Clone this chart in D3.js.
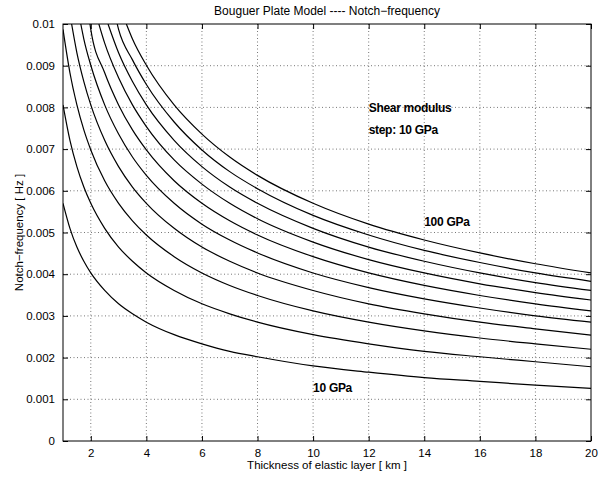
<!DOCTYPE html>
<html lang="en">
<head>
<meta charset="UTF-8">
<title>Bouguer Plate Model</title>
<script src="https://d3js.org/d3.v7.min.js"></script>
<style>
  body { margin: 0; background: #fff; }
  svg { font-family: "Liberation Sans", Arial, Helvetica, sans-serif; }
</style>
</head>
<body>
<svg id="chart"></svg>
<script>
// thickness of the elastic layer [km], the x positions of the readings
var thickness = [1, 1.25, 1.5, 1.75, 2, 2.5, 3, 3.5, 4, 5, 6, 7, 8, 10, 12, 14, 16, 18, 20];

// shear modulus of each curve [GPa]
var shearModulus = [10, 20, 30, 40, 50, 60, 70, 80, 90, 100];

// thickness where a curve comes in through the top of the plot (null = starts inside)
var topEntry = [null, null, null, 1.31, 1.64, 1.97, 2.29, 2.62, 2.95, 3.28];

// notch frequency [Hz], null = above the plot
var f10  = [0.00570, 0.00510, 0.00465, 0.00431, 0.00403, 0.00361, 0.00329, 0.00305, 0.00285, 0.00255, 0.00233, 0.00215, 0.00202, 0.00180, 0.00165, 0.00152, 0.00143, 0.00134, 0.00126];
var f20  = [0.00806, 0.00721, 0.00658, 0.00609, 0.00570, 0.00510, 0.00465, 0.00431, 0.00403, 0.00361, 0.00329, 0.00305, 0.00285, 0.00255, 0.00233, 0.00215, 0.00202, 0.00190, 0.00178];
var f30  = [0.00987, 0.00883, 0.00806, 0.00746, 0.00698, 0.00624, 0.00570, 0.00528, 0.00494, 0.00442, 0.00403, 0.00373, 0.00349, 0.00312, 0.00285, 0.00264, 0.00247, 0.00233, 0.00220];
var f40  = [null, null, 0.00931, 0.00862, 0.00806, 0.00721, 0.00658, 0.00609, 0.00570, 0.00510, 0.00465, 0.00431, 0.00403, 0.00361, 0.00329, 0.00305, 0.00285, 0.00269, 0.00254];
var f50  = [null, null, null, 0.00964, 0.00901, 0.00806, 0.00736, 0.00681, 0.00637, 0.00570, 0.00520, 0.00482, 0.00451, 0.00403, 0.00368, 0.00341, 0.00319, 0.00300, 0.00285];
var f60  = [null, null, null, null, 0.00987, 0.00883, 0.00806, 0.00746, 0.00698, 0.00624, 0.00570, 0.00528, 0.00494, 0.00442, 0.00403, 0.00373, 0.00349, 0.00329, 0.00312];
var f70  = [null, null, null, null, null, 0.00954, 0.00871, 0.00806, 0.00754, 0.00674, 0.00616, 0.00570, 0.00533, 0.00477, 0.00435, 0.00403, 0.00377, 0.00356, 0.00338];
var f80  = [null, null, null, null, null, null, 0.00931, 0.00862, 0.00806, 0.00721, 0.00658, 0.00609, 0.00570, 0.00510, 0.00465, 0.00431, 0.00403, 0.00380, 0.00361];
var f90  = [null, null, null, null, null, null, 0.00987, 0.00914, 0.00855, 0.00765, 0.00698, 0.00646, 0.00605, 0.00541, 0.00494, 0.00457, 0.00428, 0.00403, 0.00383];
var f100 = [null, null, null, null, null, null, null, 0.00964, 0.00901, 0.00806, 0.00736, 0.00681, 0.00637, 0.00570, 0.00520, 0.00482, 0.00451, 0.00425, 0.00403];
var curves = [f10, f20, f30, f40, f50, f60, f70, f80, f90, f100];

// ticks
var xTicks = [2, 4, 6, 8, 10, 12, 14, 16, 18, 20];
var yTicks = [0, 0.001, 0.002, 0.003, 0.004, 0.005, 0.006, 0.007, 0.008, 0.009, 0.01];

// annotations in data coordinates
var noteText = ["Shear modulus", "step: 10 GPa", "100 GPa", "10 GPa"];
var noteX = [12, 12, 14, 10];
var noteY = [0.0080, 0.00747, 0.00526, 0.00128];

var width = 611, height = 479;
var margin = {top: 24, right: 20, bottom: 38, left: 63};
var w = width - margin.left - margin.right;
var h = height - margin.top - margin.bottom;

var svg = d3.select("#chart").attr("width", width).attr("height", height);

var x = d3.scaleLinear().domain([1, 20]).range([0, w]);
var y = d3.scaleLinear().domain([0, 0.01]).range([h, 0]);

var g = svg.append("g").attr("transform", "translate(" + margin.left + "," + margin.top + ")");

svg.append("defs").append("clipPath").attr("id", "plotclip")
  .append("rect").attr("width", w).attr("height", h);

// dotted grid
g.selectAll(".vgrid").data(xTicks.filter(function(d) { return d < 20; }))
  .enter().append("line")
  .attr("x1", function(d) { return x(d); }).attr("x2", function(d) { return x(d); })
  .attr("y1", 0).attr("y2", h)
  .attr("stroke", "#777").attr("stroke-width", 1).attr("stroke-dasharray", "1,2.5");
g.selectAll(".hgrid").data(yTicks.filter(function(d) { return d > 0 && d < 0.01; }))
  .enter().append("line")
  .attr("y1", function(d) { return y(d); }).attr("y2", function(d) { return y(d); })
  .attr("x1", 0).attr("x2", w)
  .attr("stroke", "#777").attr("stroke-width", 1).attr("stroke-dasharray", "1,2.5");

// curves
var line = d3.line()
  .x(function(d) { return x(d[0]); })
  .y(function(d) { return y(d[1]); })
  .curve(d3.curveMonotoneX);

var series = curves.map(function(vals, k) {
  var pts = [];
  if (topEntry[k] !== null) pts.push([topEntry[k], 0.01]);
  thickness.forEach(function(t, i) { if (vals[i] !== null) pts.push([t, vals[i]]); });
  return pts;
});

g.append("g").attr("clip-path", "url(#plotclip)")
  .selectAll("path").data(series).enter().append("path")
  .attr("d", line)
  .attr("fill", "none").attr("stroke", "#000").attr("stroke-width", 1.2);

// axes, ticks inside on all four sides
var tickLen = 5;
g.append("g").attr("transform", "translate(0," + h + ")")
  .call(d3.axisBottom(x).tickValues(xTicks).tickSizeInner(-tickLen).tickSizeOuter(0).tickPadding(8))
  .call(function(a) { a.select(".domain").remove(); });
g.append("g")
  .call(d3.axisTop(x).tickValues(xTicks).tickSizeInner(-tickLen).tickSizeOuter(0).tickFormat(""))
  .call(function(a) { a.select(".domain").remove(); });
g.append("g")
  .call(d3.axisLeft(y).tickValues(yTicks).tickSizeInner(-tickLen).tickSizeOuter(0).tickPadding(8)
    .tickFormat(function(d) { return d === 0 ? "0" : String(+d.toFixed(3)); }))
  .call(function(a) { a.select(".domain").remove(); });
g.append("g").attr("transform", "translate(" + w + ",0)")
  .call(d3.axisRight(y).tickValues(yTicks).tickSizeInner(-tickLen).tickSizeOuter(0).tickFormat(""))
  .call(function(a) { a.select(".domain").remove(); });

g.selectAll(".tick text").attr("font-size", 11.5).attr("fill", "#000")
  .attr("font-family", "'Liberation Sans', Arial, sans-serif");
g.selectAll(".tick line").attr("stroke", "#000");

g.append("rect").attr("width", w).attr("height", h)
  .attr("fill", "none").attr("stroke", "#000").attr("stroke-width", 1);

// annotations
g.selectAll(".note").data(noteText).enter().append("text")
  .attr("x", function(d, i) { return x(noteX[i]); })
  .attr("y", function(d, i) { return y(noteY[i]); })
  .attr("dy", "0.35em")
  .attr("font-size", 12).attr("font-weight", "bold").attr("letter-spacing", -0.3)
  .text(function(d) { return d; });

// titles
svg.append("text").attr("x", margin.left + w / 2).attr("y", 15)
  .attr("text-anchor", "middle").attr("font-size", 12)
  .text("Bouguer Plate Model ---- Notch\u2212frequency");
svg.append("text").attr("x", margin.left + w / 2).attr("y", 469)
  .attr("text-anchor", "middle").attr("font-size", 11.5)
  .text("Thickness of elastic layer [ km ]");
svg.append("text")
  .attr("transform", "translate(23," + (margin.top + h / 2) + ") rotate(-90)")
  .attr("text-anchor", "middle").attr("font-size", 11.5)
  .text("Notch\u2212frequency [ Hz ]");
</script>
</body>
</html>
